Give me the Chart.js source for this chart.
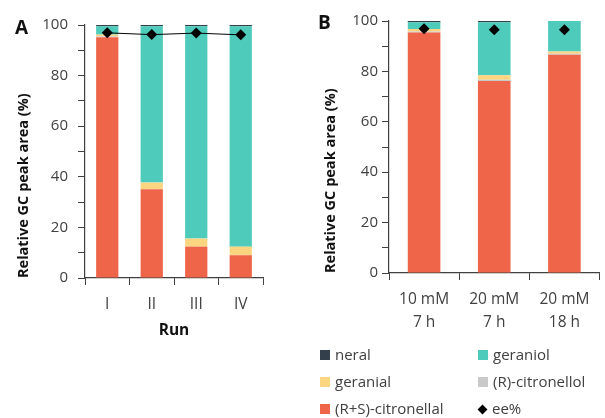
<!DOCTYPE html>
<html>
<head>
<meta charset="utf-8">
<script src="https://cdn.jsdelivr.net/npm/chart.js@4.4.1/dist/chart.umd.min.js"></script>
<style>
  html, body { margin: 0; padding: 0; background: #fff; }
  body { width: 605px; height: 418px; position: relative; overflow: hidden; font-family: 'Open Sans', sans-serif; color: #404040; }
  .box { position: absolute; }
  #boxA { left: 0; top: 0; width: 290px; height: 345px; }
  #boxB { left: 300px; top: 0; width: 305px; height: 345px; }
  .panel { position: absolute; font-weight: bold; font-size: 19px; color: #111; }
  .legend { position: absolute; left: 320px; top: 344px; width: 285px; font-size: 15px; }
  .legend .item { position: absolute; white-space: nowrap; line-height: 20px; }
  .legend .sw { display: inline-block; width: 10px; height: 10px; margin-right: 5px; vertical-align: -0px; }
  .legend .dia { display: inline-block; width: 7px; height: 7px; background: #000; transform: rotate(45deg); margin: 0 6px 1px 1px; }
</style>
</head>
<body>
<div class="box" id="boxA"><canvas id="chartA"></canvas></div>
<div class="box" id="boxB"><canvas id="chartB"></canvas></div>
<div class="panel" style="left:15px; top:14px;">A</div>
<div class="panel" style="left:318px; top:9px;">B</div>
<div class="legend" id="legend"></div>
<script>
// panel A: runs
var runLabels = ['I', 'II', 'III', 'IV'];
var runCitronellal = [95.2, 35.1, 12.4, 9.0];
var runCitronellol = [0.3, 0, 0, 0];
var runGeranial = [0.7, 2.6, 3.2, 3.4];
var runGeraniol = [3.3, 61.8, 83.9, 87.1];
var runNeral = [0.5, 0.5, 0.5, 0.5];
var runEe = [96.9, 96.2, 96.8, 96.1];

// panel B: conditions
var condLabels = [['10 mM', '7 h'], ['20 mM', '7 h'], ['20 mM', '18 h']];
var condCitronellal = [95.4, 76.2, 86.6];
var condCitronellol = [0.4, 0.5, 0.4];
var condGeranial = [1.0, 1.8, 0.9];
var condGeraniol = [2.7, 21.0, 12.1];
var condNeral = [0.5, 0.5, 0];
var condEe = [96.9, 96.5, 96.5];

var yTicks = [0, 20, 40, 60, 80, 100];

var colors = {
  neral: '#333f4a',
  geraniol: '#4ecbbb',
  geranial: '#fcd581',
  citronellol: '#c9c9c9',
  citronellal: '#ef6549'
};
var axisColor = '#404040';
var fontFam = "'Open Sans', sans-serif";

function barSets(d, barPct) {
  function mk(label, data, color) {
    return { type: 'bar', label: label, data: data, backgroundColor: color, borderWidth: 0,
      barPercentage: barPct, categoryPercentage: 1, stack: 's', order: 2 };
  }
  return [
    mk('(R+S)-citronellal', d.citronellal, colors.citronellal),
    mk('(R)-citronellol', d.citronellol, colors.citronellol),
    mk('geranial', d.geranial, colors.geranial),
    mk('geraniol', d.geraniol, colors.geraniol),
    mk('neral', d.neral, colors.neral)
  ];
}

function eeSet(data, showLine) {
  return { type: 'line', label: 'ee%', data: data, stack: 'ee', order: 0,
    borderColor: '#000', borderWidth: 1, showLine: showLine,
    pointStyle: 'rectRot', pointRadius: 5.5, pointBackgroundColor: '#000', pointBorderWidth: 0 };
}

function makeOpts(o) {
  return {
    responsive: true,
    maintainAspectRatio: false,
    animation: false,
    layout: { padding: { top: o.padTop, right: o.padRight, left: 0, bottom: 0 } },
    plugins: { legend: { display: false }, tooltip: { enabled: false } },
    scales: {
      x: {
        stacked: true,
        grid: { display: true, drawOnChartArea: false, drawTicks: true, tickLength: 7, color: axisColor, offset: true },
        border: { display: true, color: axisColor, width: 1.2 },
        ticks: { color: axisColor, font: { family: fontFam, size: 15.5, lineHeight: 1.5 }, padding: o.xPad, maxRotation: 0, autoSkip: false },
        title: o.xTitle ? { display: true, text: o.xTitle, color: '#111', font: { family: fontFam, size: 15.5, weight: 'bold' }, padding: { top: 0, bottom: 5 } } : { display: false },
        afterFit: function (s) { s.height = o.xHeight; }
      },
      y: {
        stacked: true,
        min: 0, max: 100,
        afterBuildTicks: function (s) {
          var t = [];
          for (var v = 0; v <= 100; v += 10) t.push({ value: v });
          s.ticks = t;
        },
        grid: { display: true, drawOnChartArea: false, drawTicks: true, tickLength: 7, color: axisColor },
        border: { display: true, color: axisColor, width: 1.2 },
        ticks: {
          color: axisColor, font: { family: fontFam, size: 15 }, padding: o.yPad,
          callback: function (v) { return yTicks.indexOf(v) >= 0 ? String(v) : ''; }
        },
        title: { display: true, text: 'Relative GC peak area (%)', align: 'start', color: '#111',
          font: { family: fontFam, size: 14.5, weight: 'bold' }, padding: { top: o.titlePad, bottom: 0 } },
        afterFit: function (s) { s.width = o.yWidth; }
      }
    }
  };
}

new Chart(document.getElementById('chartA'), {
  data: {
    labels: runLabels,
    datasets: barSets({ citronellal: runCitronellal, citronellol: runCitronellol, geranial: runGeranial,
      geraniol: runGeraniol, neral: runNeral }, 0.5).concat([eeSet(runEe, true)])
  },
  options: makeOpts({ padTop: 25, padRight: 27, xHeight: 67, yWidth: 85, titlePad: 15, yPad: 10, xPad: 8, xTitle: 'Run' })
});

new Chart(document.getElementById('chartB'), {
  data: {
    labels: condLabels,
    datasets: barSets({ citronellal: condCitronellal, citronellol: condCitronellol, geranial: condGeranial,
      geraniol: condGeraniol, neral: condNeral }, 0.465).concat([eeSet(condEe, false)])
  },
  options: makeOpts({ padTop: 21, padRight: 4, xHeight: 72, yWidth: 89, titlePad: 22, yPad: 4, xPad: 8, xTitle: null })
});

// legend, two columns like the reference
var legendItems = [
  { text: 'neral', color: colors.neral, col: 0, row: 0 },
  { text: 'geraniol', color: colors.geraniol, col: 1, row: 0 },
  { text: 'geranial', color: colors.geranial, col: 0, row: 1 },
  { text: '(R)-citronellol', color: colors.citronellol, col: 1, row: 1 },
  { text: '(R+S)-citronellal', color: colors.citronellal, col: 0, row: 2 },
  { text: 'ee%', color: null, col: 1, row: 2 }
];
var leg = document.getElementById('legend');
legendItems.forEach(function (it) {
  var d = document.createElement('div');
  d.className = 'item';
  d.style.left = (it.col * 158) + 'px';
  d.style.top = (it.row * 27) + 'px';
  var mark = document.createElement('span');
  if (it.color) { mark.className = 'sw'; mark.style.background = it.color; }
  else { mark.className = 'dia'; }
  d.appendChild(mark);
  d.appendChild(document.createTextNode(it.text));
  leg.appendChild(d);
});
</script>
</body>
</html>
